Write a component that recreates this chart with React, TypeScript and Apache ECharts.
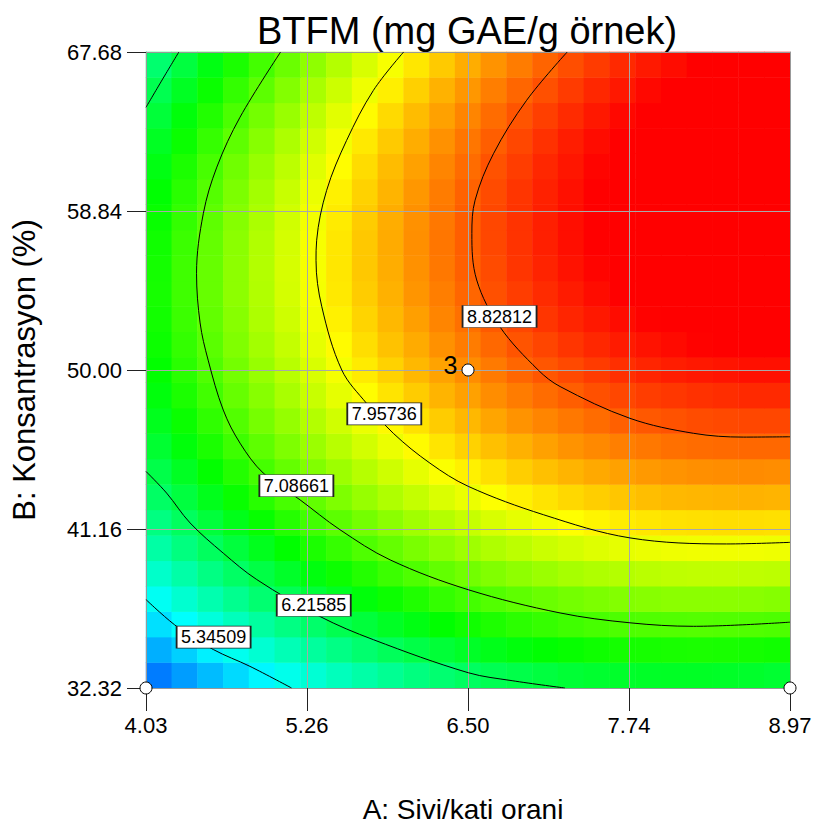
import React, { useEffect, useRef } from 'react';
import * as echarts from 'echarts';

const FONT = "'Liberation Sans', Arial, sans-serif";

const titleText = 'BTFM (mg GAE/g örnek)';
const xAxisName = 'A: Sivi/kati orani';
const yAxisName = 'B: Konsantrasyon (%)';

// tick positions in coded factor units (-1 .. 1) and their actual-unit labels
const tickCoded = [-1, -0.5, 0, 0.5, 1];
const xTickLabels = ['4.03', '5.26', '6.50', '7.74', '8.97'];
const yTickLabels = ['32.32', '41.16', '50.00', '58.84', '67.68'];

// heatmap cell centres (coded units)
const cellA = [-0.96, -0.88, -0.8, -0.72, -0.64, -0.56, -0.48, -0.4, -0.32, -0.24, -0.16, -0.08, 0, 0.08, 0.16, 0.24, 0.32, 0.4, 0.48, 0.56, 0.64, 0.72, 0.8, 0.88, 0.96];
const cellB = [-0.96, -0.88, -0.8, -0.72, -0.64, -0.56, -0.48, -0.4, -0.32, -0.24, -0.16, -0.08, 0, 0.08, 0.16, 0.24, 0.32, 0.4, 0.48, 0.56, 0.64, 0.72, 0.8, 0.88, 0.96];

// BTFM values estimated per cell, rows from bottom (B low) to top (B high)
const btfmGrid = [
  [4.72, 4.89, 5.05, 5.20, 5.35, 5.49, 5.61, 5.73, 5.84, 5.94, 6.04, 6.12, 6.20, 6.27, 6.32, 6.37, 6.42, 6.45, 6.47, 6.49, 6.50, 6.50, 6.49, 6.47, 6.44],
  [4.98, 5.15, 5.32, 5.47, 5.62, 5.76, 5.89, 6.01, 6.13, 6.23, 6.33, 6.41, 6.49, 6.56, 6.63, 6.68, 6.72, 6.76, 6.79, 6.80, 6.81, 6.82, 6.81, 6.79, 6.77],
  [5.23, 5.40, 5.57, 5.73, 5.88, 6.02, 6.15, 6.28, 6.39, 6.50, 6.60, 6.69, 6.77, 6.84, 6.91, 6.96, 7.01, 7.05, 7.08, 7.10, 7.11, 7.12, 7.11, 7.10, 7.08],
  [5.45, 5.63, 5.80, 5.96, 6.12, 6.26, 6.40, 6.52, 6.64, 6.75, 6.85, 6.95, 7.03, 7.11, 7.17, 7.23, 7.28, 7.32, 7.36, 7.38, 7.40, 7.40, 7.40, 7.39, 7.37],
  [5.66, 5.84, 6.02, 6.18, 6.34, 6.48, 6.62, 6.75, 6.87, 6.99, 7.09, 7.19, 7.27, 7.35, 7.42, 7.48, 7.54, 7.58, 7.61, 7.64, 7.66, 7.67, 7.67, 7.66, 7.65],
  [5.85, 6.04, 6.21, 6.38, 6.54, 6.69, 6.83, 6.96, 7.09, 7.20, 7.31, 7.41, 7.50, 7.58, 7.65, 7.72, 7.77, 7.82, 7.86, 7.89, 7.91, 7.92, 7.92, 7.92, 7.91],
  [6.03, 6.21, 6.39, 6.56, 6.72, 6.88, 7.02, 7.16, 7.28, 7.40, 7.51, 7.61, 7.70, 7.79, 7.86, 7.93, 7.99, 8.04, 8.08, 8.11, 8.14, 8.15, 8.16, 8.16, 8.15],
  [6.18, 6.37, 6.55, 6.73, 6.89, 7.05, 7.19, 7.33, 7.46, 7.58, 7.69, 7.80, 7.89, 7.98, 8.06, 8.13, 8.19, 8.24, 8.28, 8.32, 8.35, 8.36, 8.37, 8.38, 8.37],
  [6.32, 6.51, 6.70, 6.87, 7.04, 7.20, 7.35, 7.49, 7.62, 7.74, 7.86, 7.97, 8.06, 8.15, 8.24, 8.31, 8.37, 8.43, 8.47, 8.51, 8.54, 8.56, 8.57, 8.58, 8.57],
  [6.44, 6.64, 6.82, 7.00, 7.17, 7.33, 7.48, 7.63, 7.76, 7.89, 8.01, 8.12, 8.22, 8.31, 8.39, 8.47, 8.54, 8.59, 8.64, 8.68, 8.72, 8.74, 8.75, 8.76, 8.76],
  [6.54, 6.74, 6.93, 7.11, 7.29, 7.45, 7.60, 7.75, 7.89, 8.02, 8.14, 8.25, 8.35, 8.45, 8.54, 8.61, 8.68, 8.74, 8.80, 8.84, 8.87, 8.90, 8.92, 8.93, 8.93],
  [6.63, 6.83, 7.02, 7.21, 7.38, 7.55, 7.71, 7.86, 8.00, 8.13, 8.25, 8.37, 8.47, 8.57, 8.66, 8.74, 8.81, 8.88, 8.93, 8.98, 9.01, 9.04, 9.06, 9.08, 9.08],
  [6.70, 6.90, 7.10, 7.28, 7.46, 7.63, 7.79, 7.94, 8.09, 8.22, 8.35, 8.46, 8.57, 8.67, 8.77, 8.85, 8.92, 8.99, 9.05, 9.10, 9.14, 9.17, 9.19, 9.21, 9.21],
  [6.75, 6.95, 7.15, 7.34, 7.52, 7.69, 7.86, 8.01, 8.16, 8.30, 8.42, 8.55, 8.66, 8.76, 8.86, 8.94, 9.02, 9.09, 9.15, 9.20, 9.24, 9.28, 9.30, 9.32, 9.33],
  [6.78, 6.99, 7.19, 7.38, 7.57, 7.74, 7.91, 8.06, 8.21, 8.35, 8.48, 8.61, 8.72, 8.83, 8.93, 9.02, 9.10, 9.17, 9.23, 9.28, 9.33, 9.37, 9.40, 9.42, 9.43],
  [6.80, 7.01, 7.21, 7.41, 7.59, 7.77, 7.94, 8.10, 8.25, 8.39, 8.53, 8.65, 8.77, 8.88, 8.98, 9.07, 9.15, 9.23, 9.29, 9.35, 9.40, 9.44, 9.47, 9.49, 9.51],
  [6.79, 7.01, 7.21, 7.41, 7.60, 7.78, 7.95, 8.11, 8.27, 8.41, 8.55, 8.68, 8.80, 8.91, 9.02, 9.11, 9.20, 9.27, 9.34, 9.40, 9.45, 9.50, 9.53, 9.56, 9.57],
  [6.77, 6.99, 7.20, 7.40, 7.59, 7.77, 7.95, 8.11, 8.27, 8.42, 8.56, 8.69, 8.81, 8.93, 9.03, 9.13, 9.22, 9.30, 9.37, 9.43, 9.49, 9.53, 9.57, 9.60, 9.62],
  [6.73, 6.95, 7.17, 7.37, 7.56, 7.75, 7.93, 8.09, 8.25, 8.41, 8.55, 8.68, 8.81, 8.93, 9.03, 9.13, 9.22, 9.31, 9.38, 9.45, 9.50, 9.55, 9.59, 9.62, 9.65],
  [6.68, 6.90, 7.12, 7.32, 7.52, 7.71, 7.89, 8.06, 8.22, 8.37, 8.52, 8.66, 8.79, 8.91, 9.02, 9.12, 9.21, 9.30, 9.38, 9.44, 9.50, 9.55, 9.60, 9.63, 9.66],
  [6.60, 6.83, 7.05, 7.26, 7.46, 7.65, 7.83, 8.00, 8.17, 8.33, 8.47, 8.61, 8.74, 8.87, 8.98, 9.09, 9.18, 9.27, 9.35, 9.42, 9.48, 9.54, 9.58, 9.62, 9.65],
  [6.51, 6.74, 6.96, 7.17, 7.38, 7.57, 7.75, 7.93, 8.10, 8.26, 8.41, 8.55, 8.69, 8.81, 8.93, 9.04, 9.14, 9.23, 9.31, 9.38, 9.45, 9.51, 9.55, 9.59, 9.62],
  [6.40, 6.64, 6.86, 7.07, 7.28, 7.47, 7.66, 7.84, 8.01, 8.18, 8.33, 8.47, 8.61, 8.74, 8.86, 8.97, 9.07, 9.17, 9.25, 9.33, 9.39, 9.45, 9.50, 9.55, 9.58],
  [6.28, 6.51, 6.74, 6.95, 7.16, 7.36, 7.55, 7.73, 7.91, 8.07, 8.23, 8.38, 8.52, 8.65, 8.77, 8.88, 8.99, 9.09, 9.17, 9.25, 9.32, 9.39, 9.44, 9.48, 9.52],
  [6.13, 6.37, 6.60, 6.82, 7.03, 7.23, 7.42, 7.61, 7.79, 7.95, 8.11, 8.26, 8.41, 8.54, 8.66, 8.78, 8.89, 8.99, 9.08, 9.16, 9.23, 9.30, 9.36, 9.40, 9.44],
];

// colour scale of the response
const colorScaleMin = 4.09;
const colorScaleMax = 9.29;
const colorStops = ['#0000ff', '#00ffff', '#00ff00', '#ffff00', '#ff0000'];

// contour lines, points read in coded units [A, B]
const contour5345 = [[-1.0, -0.722], [-0.905, -0.806], [-0.791, -0.879], [-0.677, -0.932], [-0.548, -1.0]];
const contour6216Low = [[-1.0, -0.319], [-0.936, -0.387], [-0.863, -0.481], [-0.76, -0.576], [-0.656, -0.659], [-0.46, -0.775], [-0.294, -0.848], [0.001, -0.952], [0.137, -0.977], [0.301, -1.0]];
const contour6216High = [[-1.0, 0.826], [-0.95, 0.912], [-0.898, 1.0]];
const contour7087 = [[-0.582, 1.0], [-0.708, 0.795], [-0.78, 0.638], [-0.822, 0.492], [-0.843, 0.304], [-0.832, 0.148], [-0.807, 0.031], [-0.76, -0.126], [-0.708, -0.23], [-0.636, -0.324], [-0.522, -0.408], [-0.398, -0.502], [-0.242, -0.597], [0.001, -0.691], [0.286, -0.764], [0.503, -0.795], [0.7, -0.806], [1.0, -0.793]];
const contour7957 = [[-0.2, 1.0], [-0.294, 0.879], [-0.377, 0.722], [-0.439, 0.565], [-0.47, 0.408], [-0.472, 0.345], [-0.454, 0.199], [-0.392, 0.0], [-0.315, -0.105], [-0.232, -0.199], [-0.118, -0.293], [0.001, -0.366], [0.234, -0.455], [0.503, -0.528], [0.803, -0.547], [1.0, -0.542]];
const contour8828 = [[0.308, 1.0], [0.182, 0.848], [0.079, 0.68], [0.022, 0.534], [0.012, 0.429], [0.027, 0.283], [0.099, 0.136], [0.218, 0.0], [0.286, -0.052], [0.503, -0.152], [0.7, -0.199], [0.855, -0.211], [1.0, -0.21]];

const contourLevelLabels = ['5.34509', '6.21585', '7.08661', '7.95736', '8.82812'];
const contourLabelPos = [[-0.79, -0.84], [-0.479, -0.74], [-0.533, -0.364], [-0.26, -0.138], [0.098, 0.168]];

// design points (coded) and their replicate counts
const designPoints = [[0, 0], [-1, -1], [1, -1]];
const designPointLabels = ['3', '', ''];

export default function App() {
  const ref = useRef<HTMLDivElement>(null);
  useEffect(() => {
    if (!ref.current) return;
    const chart = echarts.init(ref.current, undefined, { renderer: 'svg' });
    const heatData: any[] = [];
    btfmGrid.forEach((row, j) => row.forEach((v, i) => heatData.push([i, j, v])));
    const contourSeries = [contour5345, contour6216Low, contour6216High, contour7087, contour7957, contour8828].map((pts) => ({
      type: 'line',
      xAxisIndex: 0,
      yAxisIndex: 0,
      data: pts,
      showSymbol: false,
      symbol: 'none',
      smooth: 0.35,
      silent: true,
      z: 6,
      lineStyle: { color: '#000', width: 1 },
    }));
    const tickLabel = (labels: string[]) => (v: number) => {
      const k = tickCoded.findIndex((t) => Math.abs(t - v) < 1e-6);
      return k >= 0 ? labels[k] : '';
    };
    chart.setOption({
      animation: false,
      backgroundColor: '#fff',
      title: {
        text: titleText,
        left: 467,
        top: 12,
        textAlign: 'center',
        padding: 0,
        textStyle: { fontSize: 38, fontWeight: 'normal', color: '#000', fontFamily: FONT },
      },
      grid: { left: 146, top: 52, width: 644, height: 637, containLabel: false },
      visualMap: {
        type: 'continuous',
        show: false,
        seriesIndex: 0,
        min: colorScaleMin,
        max: colorScaleMax,
        inRange: { color: colorStops },
      },
      xAxis: [
        {
          type: 'value',
          min: -1,
          max: 1,
          interval: 0.5,
          position: 'bottom',
          z: 5,
          axisLine: { show: true, onZero: false, lineStyle: { color: '#999', width: 1 } },
          axisTick: { show: true, length: 23, lineStyle: { color: '#222' } },
          axisLabel: { formatter: tickLabel(xTickLabels), fontSize: 22, color: '#000', margin: 26, fontFamily: FONT },
          splitLine: { show: true, lineStyle: { color: '#a8a8a8', width: 1 } },
          name: xAxisName,
          nameLocation: 'middle',
          nameGap: 107,
          nameTextStyle: { fontSize: 28, color: '#000', fontFamily: FONT, padding: [0, 10, 0, 0] },
        },
        {
          type: 'category',
          data: cellA,
          position: 'top',
          z: 5,
          axisLine: { show: true, onZero: false, lineStyle: { color: '#999', width: 1 } },
          axisTick: { show: false },
          axisLabel: { show: false },
          splitLine: { show: false },
        },
      ],
      yAxis: [
        {
          type: 'value',
          min: -1,
          max: 1,
          interval: 0.5,
          position: 'left',
          z: 5,
          axisLine: { show: true, onZero: false, lineStyle: { color: '#999', width: 1 } },
          axisTick: { show: true, length: 19, lineStyle: { color: '#222' } },
          axisLabel: { formatter: tickLabel(yTickLabels), fontSize: 22, color: '#000', margin: 24, fontFamily: FONT },
          splitLine: { show: true, lineStyle: { color: '#a8a8a8', width: 1 } },
          name: yAxisName,
          nameLocation: 'middle',
          nameGap: 106,
          nameTextStyle: { fontSize: 31, color: '#000', fontFamily: FONT },
        },
        {
          type: 'category',
          data: cellB,
          position: 'right',
          z: 5,
          axisLine: { show: true, onZero: false, lineStyle: { color: '#999', width: 1 } },
          axisTick: { show: false },
          axisLabel: { show: false },
          splitLine: { show: false },
        },
      ],
      series: [
        {
          type: 'heatmap',
          xAxisIndex: 1,
          yAxisIndex: 1,
          data: heatData,
          silent: true,
          z: 2,
          itemStyle: { borderWidth: 0 },
        },
        ...contourSeries,
        {
          type: 'scatter',
          xAxisIndex: 0,
          yAxisIndex: 0,
          data: contourLabelPos,
          symbol: 'rect',
          symbolSize: [74, 22],
          silent: true,
          z: 7,
          itemStyle: { color: '#ffffff', opacity: 1, borderColor: '#222', borderWidth: 1 },
          label: {
            show: true,
            position: 'inside',
            formatter: (p: any) => contourLevelLabels[p.dataIndex],
            fontSize: 18,
            color: '#000',
            fontFamily: FONT,
          },
        },
        {
          type: 'scatter',
          xAxisIndex: 0,
          yAxisIndex: 0,
          data: designPoints,
          symbol: 'circle',
          symbolSize: 12,
          clip: false,
          silent: true,
          z: 8,
          itemStyle: { color: '#fff', opacity: 1, borderColor: '#000', borderWidth: 1 },
          label: {
            show: true,
            position: 'left',
            distance: 4,
            offset: [0, -5],
            formatter: (p: any) => designPointLabels[p.dataIndex],
            fontSize: 25,
            color: '#000',
            fontFamily: FONT,
          },
        },
      ],
    });
    return () => chart.dispose();
  }, []);
  return (
    <div
      ref={ref}
      style={{ position: 'absolute', left: 0, top: 0, width: 822, height: 828, background: '#fff' }}
    />
  );
}
